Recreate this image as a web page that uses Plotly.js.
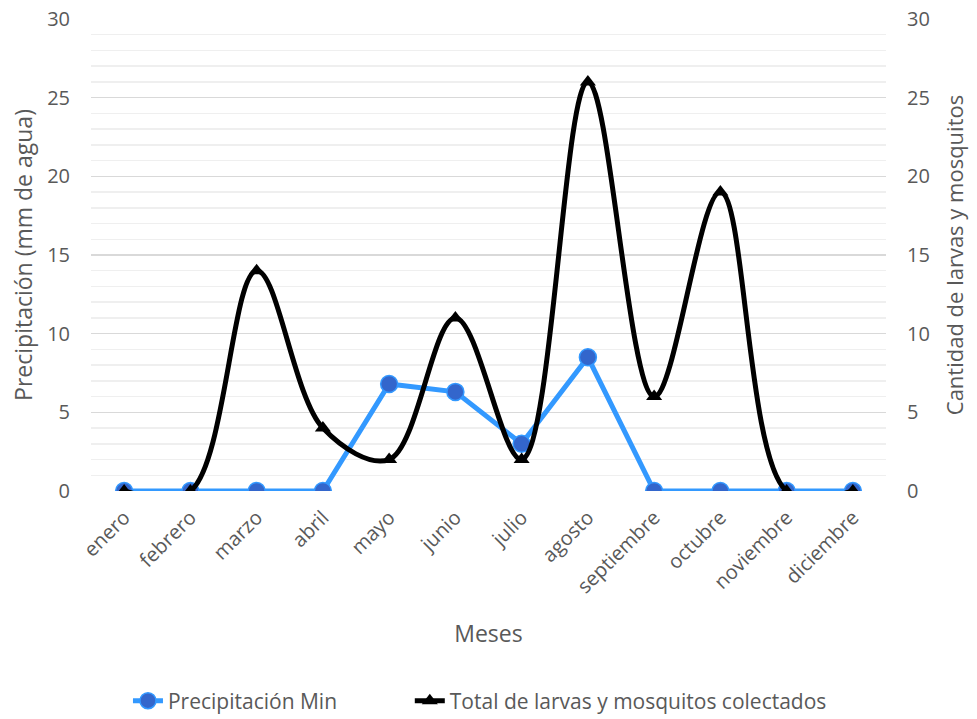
<!DOCTYPE html>
<html>
<head>
<meta charset="utf-8">
<script src="https://cdn.plot.ly/plotly-3.0.1.min.js"></script>
<style>html,body{margin:0;padding:0;background:#fff;}#chart{width:977px;height:719px;}</style>
</head>
<body>
<div id="chart"></div>
<script>
const months = ["enero","febrero","marzo","abril","mayo","junio","julio","agosto","septiembre","octubre","noviembre","diciembre"];
const precipitacion = [0,0,0,0,6.8,6.3,3.0,8.5,0,0,0,0];
const larvas = [0,0,14,4,2,11,2,26,6,19,0,0];

const font = {family: "Open Sans, Noto Sans, sans-serif", color: "#595959"};
const f = (s) => Object.assign({size: s}, font);

const traces = [
  {
    x: months, y: precipitacion, name: "Precipitación Min", type: "scatter", mode: "lines+markers",
    line: {color: "#3399FF", width: 5},
    marker: {symbol: "circle", size: 17, color: "#3366CC", line: {color: "#3399FF", width: 1.5}},
    yaxis: "y", legend: "legend"
  },
  {
    x: months, y: larvas, name: "Total de larvas y mosquitos colectados", type: "scatter", mode: "lines+markers",
    line: {color: "#000000", width: 5, shape: "spline", smoothing: 1},
    marker: {symbol: "triangle-up", size: 14, color: "#000000"},
    yaxis: "y2", legend: "legend2"
  }
];

const layout = {
  width: 977, height: 719,
  margin: {l: 91, r: 91, t: 19, b: 228, autoexpand: false},
  paper_bgcolor: "#fff", plot_bgcolor: "#fff",
  font: f(20),
  showlegend: true,
  legend: {orientation: "h", x: 0.0465, xanchor: "left", y: -0.445, yanchor: "middle", font: f(21), bgcolor: "rgba(0,0,0,0)"},
  legend2: {orientation: "h", x: 0.401, xanchor: "left", y: -0.445, yanchor: "middle", font: f(21), bgcolor: "rgba(0,0,0,0)"},
  xaxis: {
    type: "category", range: [-0.5, 11.5], tickangle: -45, showgrid: false, zeroline: false,
    showline: false, ticks: "", tickfont: f(20), automargin: false, ticklabelstandoff: 10,
    title: {text: "Meses", font: f(23), standoff: 28}
  },
  yaxis: {
    range: [0, 30], dtick: 5, tick0: 0, showgrid: true, gridcolor: "#D9D9D9", gridwidth: 1.5,
    zeroline: false, showline: false, ticks: "", ticklabelstandoff: 20, automargin: false,
    minor: {dtick: 1, showgrid: true, gridcolor: "#EFEFEF", gridwidth: 1.5},
    tickfont: f(20),
    title: {text: "Precipitación (mm de agua)", font: f(23), standoff: 8}
  },
  yaxis2: {
    range: [0, 30], dtick: 5, tick0: 0, overlaying: "y", side: "right", showgrid: false,
    zeroline: false, showline: false, ticks: "", ticklabelstandoff: 20, automargin: false,
    tickfont: f(20),
    title: {text: "Cantidad de larvas y mosquitos", font: f(22), standoff: 18}
  }
};

Plotly.newPlot("chart", traces, layout, {displayModeBar: false, staticPlot: true});
</script>
</body>
</html>
